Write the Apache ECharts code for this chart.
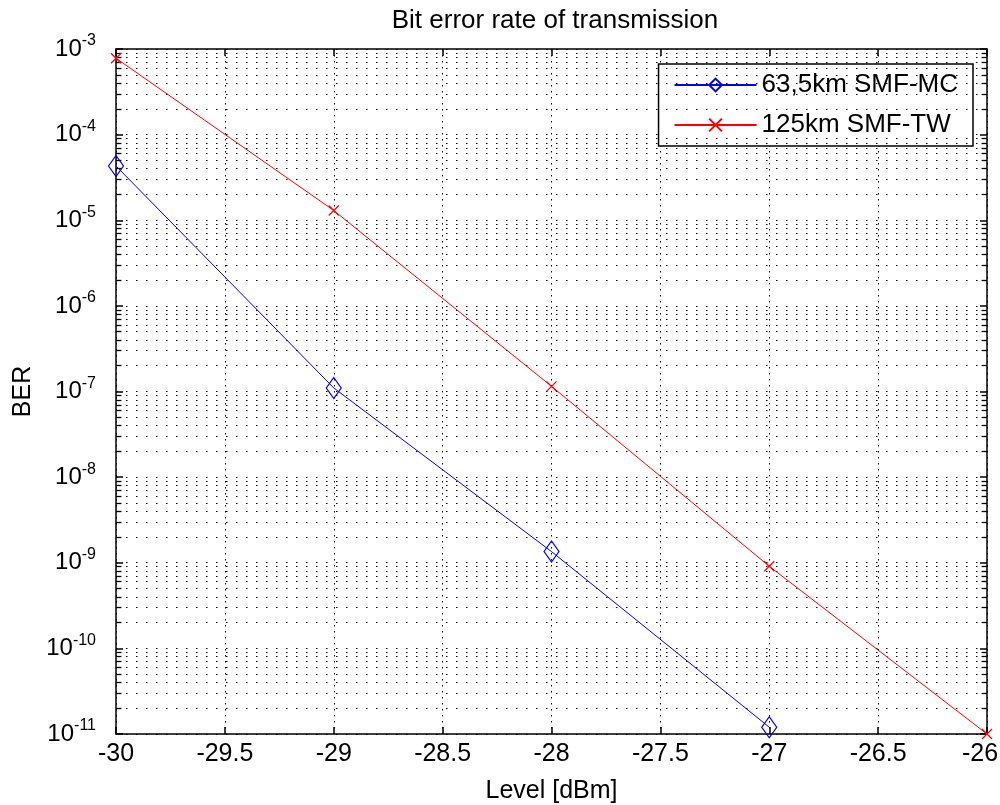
<!DOCTYPE html>
<html>
<head>
<meta charset="utf-8">
<script src="https://cdn.jsdelivr.net/npm/echarts@6/dist/echarts.min.js"></script>
<style>html,body{margin:0;padding:0;background:#fff;overflow:hidden}#c{width:1000px;height:805px}</style>
</head>
<body>
<div id="c"></div>
<script>
const levels = [-30, -29, -28, -27, -26];
const berMC = [4.3e-5, 1.1e-7, 1.35e-9, 1.2e-11];     // 63,5km SMF-MC
const berTW = [7.8e-4, 1.3e-5, 1.15e-7, 9.1e-10, 1e-11]; // 125km SMF-TW
const seriesNames = ['63,5km SMF-MC', '125km SMF-TW'];
const xRange = [-30, -26];
const yRange = [1e-11, 1e-3];

const FONT = '"Liberation Sans", Arial, sans-serif';
const minorVals = [];
for (let e = -11; e < -3; e++) for (let m = 2; m <= 9; m++) minorVals.push(m * Math.pow(10, e));
const minorTickLen = 0.025;

const chart = echarts.init(document.getElementById('c'));
const axisLine = { show: true, lineStyle: { color: '#000', width: 1.5 } };
const tick = { show: true, inside: true, length: 7, lineStyle: { color: '#000', width: 1.5 } };
chart.setOption({
  animation: false,
  backgroundColor: '#fff',
  textStyle: { fontFamily: FONT, color: '#000' },
  title: {
    text: 'Bit error rate of transmission',
    left: 550, top: 3, textAlign: 'center',
    textStyle: { fontFamily: FONT, fontSize: 26, fontWeight: 'normal', color: '#000' }
  },
  grid: { left: 116, right: 13, top: 49, bottom: 71, containLabel: false, outerBoundsMode: 'none' },
  legend: {
    orient: 'vertical', right: 27, top: 64,
    data: seriesNames,
    backgroundColor: '#fff', borderColor: '#000', borderWidth: 1.5,
    padding: [8, 15, 8, 15], itemGap: 14, itemWidth: 82, itemHeight: 16,
    textStyle: { fontFamily: FONT, fontSize: 26, color: '#000' }
  },
  xAxis: [{
    type: 'value', min: xRange[0], max: xRange[1], interval: 0.5,
    name: 'Level [dBm]', nameLocation: 'middle', nameGap: 45,
    nameTextStyle: { fontFamily: FONT, fontSize: 25, color: '#000' },
    axisLine: axisLine, axisTick: tick,
    axisLabel: {
      fontFamily: FONT, fontSize: 25, color: '#000', margin: 8,
      formatter: v => {
        const s = String(Math.round(v * 10) / 10);
        return v === xRange[1] ? '{e|' + s + '}' : s;
      },
      rich: { e: { fontFamily: FONT, fontSize: 25, color: '#000', padding: [0, 14, 0, 0] } }
    },
    splitLine: { show: true, lineStyle: { color: '#000', width: 1, type: [1.5, 4.5] } }
  }, {
    type: 'value', min: xRange[0], max: xRange[1], interval: 0.5, position: 'top',
    axisLine: axisLine, axisTick: tick,
    axisLabel: { show: false }, splitLine: { show: false }
  }],
  yAxis: [{
    type: 'log', logBase: 10, min: yRange[0], max: yRange[1], splitNumber: 8,
    name: 'BER', nameLocation: 'middle', nameGap: 80, nameRotate: 90,
    nameTextStyle: { fontFamily: FONT, fontSize: 25, color: '#000' },
    axisLine: axisLine, axisTick: tick,
    axisLabel: {
      margin: 20,
      formatter: v => '{b|10}{s|' + Math.round(Math.log10(v)) + '}',
      rich: {
        b: { fontFamily: FONT, fontSize: 24, color: '#000' },
        s: { fontFamily: FONT, fontSize: 16, color: '#000', padding: [0, 0, 16, 0] }
      }
    },
    splitLine: { show: true, lineStyle: { color: '#000', width: 1, type: [1.5, 8.5] } }
  }, {
    type: 'log', logBase: 10, min: yRange[0], max: yRange[1], splitNumber: 8, position: 'right',
    axisLine: axisLine, axisTick: tick,
    axisLabel: { show: false }, splitLine: { show: false }
  }],
  series: [{
    name: seriesNames[0], type: 'line',
    data: berMC.map((v, i) => [levels[i], v]),
    symbol: 'diamond', symbolSize: [15, 21],
    lineStyle: { color: '#0000ff', width: 1 },
    itemStyle: { color: 'rgba(0,0,0,0)', borderColor: '#0000ff', borderWidth: 1.2 },
    z: 5,
    markLine: {
      silent: true, symbol: ['none', 'none'], animation: false,
      label: { show: false },
      lineStyle: { color: '#000', width: 1.3, type: 'solid' },
      emphasis: { disabled: true },
      data: minorVals.map(v => [{ coord: [xRange[0], v] }, { coord: [xRange[0] + minorTickLen, v] }])
        .concat(minorVals.map(v => [{ coord: [xRange[1], v] }, { coord: [xRange[1] - minorTickLen, v] }]))
    }
  }, {
    name: seriesNames[1], type: 'line',
    data: berTW.map((v, i) => [levels[i], v]),
    symbol: 'path://M0,0L10,10M10,0L0,10', symbolSize: 10,
    lineStyle: { color: '#ff0000', width: 1 },
    itemStyle: { color: 'rgba(0,0,0,0)', borderColor: '#ff0000', borderWidth: 1.2 },
    z: 5,
    markLine: {
      silent: true, symbol: ['none', 'none'], animation: false,
      label: { show: false },
      lineStyle: { color: '#000', width: 1, type: [1.5, 8.5] },
      emphasis: { disabled: true },
      data: minorVals.map(v => [{ coord: [xRange[0], v] }, { coord: [xRange[1], v] }])
    }
  }]
});
</script>
</body>
</html>
